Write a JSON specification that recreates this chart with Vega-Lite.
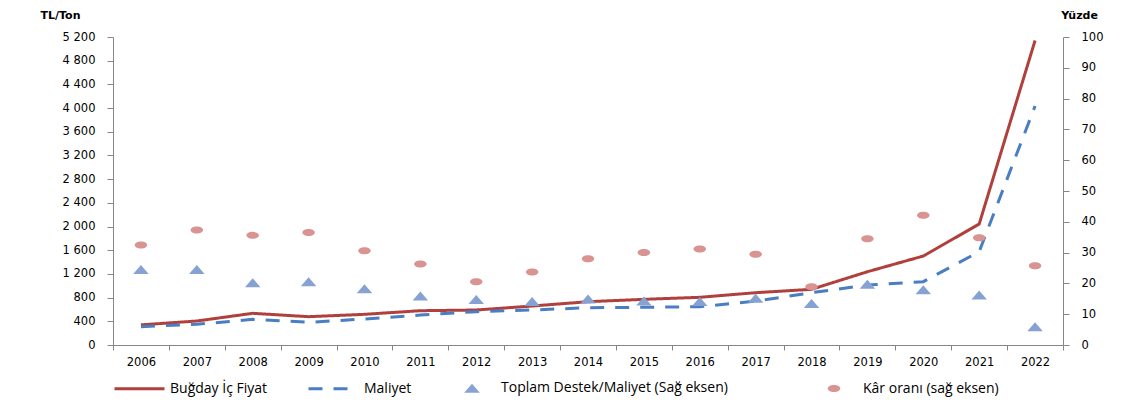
{
  "$schema": "https://vega.github.io/schema/vega-lite/v6.json",
  "width": 950,
  "height": 308,
  "autosize": "none",
  "padding": {"left": 113, "top": 37, "right": 67, "bottom": 74},
  "background": "white",
  "config": {
    "view": {"stroke": null},
    "axis": {
      "grid": false,
      "domainColor": "#868686",
      "tickColor": "#868686",
      "labelFont": "DejaVu Sans",
      "labelFontSize": 11.5,
      "labelColor": "#000000",
      "titleFont": "DejaVu Sans",
      "titleFontSize": 11,
      "titleFontWeight": "bold",
      "titleColor": "#000000"
    },
    "legend": {
      "title": null,
      "orient": "none",
      "direction": "horizontal",
      "labelFont": "Open Sans",
      "labelFontSize": 14,
      "labelColor": "#000000",
      "labelLimit": 400,
      "symbolSize": 2500,
      "padding": 0
    }
  },
  "data": {
    "values": [
      {"yil": "2006", "seri": "Buğday İç Fiyat", "deger": 340},
      {"yil": "2007", "seri": "Buğday İç Fiyat", "deger": 405},
      {"yil": "2008", "seri": "Buğday İç Fiyat", "deger": 535},
      {"yil": "2009", "seri": "Buğday İç Fiyat", "deger": 478},
      {"yil": "2010", "seri": "Buğday İç Fiyat", "deger": 518},
      {"yil": "2011", "seri": "Buğday İç Fiyat", "deger": 579},
      {"yil": "2012", "seri": "Buğday İç Fiyat", "deger": 591},
      {"yil": "2013", "seri": "Buğday İç Fiyat", "deger": 658},
      {"yil": "2014", "seri": "Buğday İç Fiyat", "deger": 731},
      {"yil": "2015", "seri": "Buğday İç Fiyat", "deger": 771},
      {"yil": "2016", "seri": "Buğday İç Fiyat", "deger": 805},
      {"yil": "2017", "seri": "Buğday İç Fiyat", "deger": 883},
      {"yil": "2018", "seri": "Buğday İç Fiyat", "deger": 940},
      {"yil": "2019", "seri": "Buğday İç Fiyat", "deger": 1237},
      {"yil": "2020", "seri": "Buğday İç Fiyat", "deger": 1502},
      {"yil": "2021", "seri": "Buğday İç Fiyat", "deger": 2042},
      {"yil": "2022", "seri": "Buğday İç Fiyat", "deger": 5140},
      {"yil": "2006", "seri": "Maliyet", "deger": 310},
      {"yil": "2007", "seri": "Maliyet", "deger": 349},
      {"yil": "2008", "seri": "Maliyet", "deger": 433},
      {"yil": "2009", "seri": "Maliyet", "deger": 383},
      {"yil": "2010", "seri": "Maliyet", "deger": 439},
      {"yil": "2011", "seri": "Maliyet", "deger": 506},
      {"yil": "2012", "seri": "Maliyet", "deger": 563},
      {"yil": "2013", "seri": "Maliyet", "deger": 591},
      {"yil": "2014", "seri": "Maliyet", "deger": 630},
      {"yil": "2015", "seri": "Maliyet", "deger": 636},
      {"yil": "2016", "seri": "Maliyet", "deger": 647},
      {"yil": "2017", "seri": "Maliyet", "deger": 740},
      {"yil": "2018", "seri": "Maliyet", "deger": 883},
      {"yil": "2019", "seri": "Maliyet", "deger": 1013},
      {"yil": "2020", "seri": "Maliyet", "deger": 1069},
      {"yil": "2021", "seri": "Maliyet", "deger": 1575},
      {"yil": "2022", "seri": "Maliyet", "deger": 4034},
      {"yil": "2006", "seri": "Toplam Destek/Maliyet (Sağ eksen)", "deger": 24.5},
      {"yil": "2007", "seri": "Toplam Destek/Maliyet (Sağ eksen)", "deger": 24.5},
      {"yil": "2008", "seri": "Toplam Destek/Maliyet (Sağ eksen)", "deger": 20.2},
      {"yil": "2009", "seri": "Toplam Destek/Maliyet (Sağ eksen)", "deger": 20.5},
      {"yil": "2010", "seri": "Toplam Destek/Maliyet (Sağ eksen)", "deger": 18.3},
      {"yil": "2011", "seri": "Toplam Destek/Maliyet (Sağ eksen)", "deger": 15.9},
      {"yil": "2012", "seri": "Toplam Destek/Maliyet (Sağ eksen)", "deger": 14.8},
      {"yil": "2013", "seri": "Toplam Destek/Maliyet (Sağ eksen)", "deger": 14.1},
      {"yil": "2014", "seri": "Toplam Destek/Maliyet (Sağ eksen)", "deger": 14.9},
      {"yil": "2015", "seri": "Toplam Destek/Maliyet (Sağ eksen)", "deger": 14.3},
      {"yil": "2016", "seri": "Toplam Destek/Maliyet (Sağ eksen)", "deger": 14.1},
      {"yil": "2017", "seri": "Toplam Destek/Maliyet (Sağ eksen)", "deger": 15.2},
      {"yil": "2018", "seri": "Toplam Destek/Maliyet (Sağ eksen)", "deger": 13.5},
      {"yil": "2019", "seri": "Toplam Destek/Maliyet (Sağ eksen)", "deger": 19.7},
      {"yil": "2020", "seri": "Toplam Destek/Maliyet (Sağ eksen)", "deger": 17.9},
      {"yil": "2021", "seri": "Toplam Destek/Maliyet (Sağ eksen)", "deger": 16.2},
      {"yil": "2022", "seri": "Toplam Destek/Maliyet (Sağ eksen)", "deger": 5.9},
      {"yil": "2006", "seri": "Kâr oranı (sağ eksen)", "deger": 32.5},
      {"yil": "2007", "seri": "Kâr oranı (sağ eksen)", "deger": 37.3},
      {"yil": "2008", "seri": "Kâr oranı (sağ eksen)", "deger": 35.6},
      {"yil": "2009", "seri": "Kâr oranı (sağ eksen)", "deger": 36.5},
      {"yil": "2010", "seri": "Kâr oranı (sağ eksen)", "deger": 30.6},
      {"yil": "2011", "seri": "Kâr oranı (sağ eksen)", "deger": 26.3},
      {"yil": "2012", "seri": "Kâr oranı (sağ eksen)", "deger": 20.5},
      {"yil": "2013", "seri": "Kâr oranı (sağ eksen)", "deger": 23.7},
      {"yil": "2014", "seri": "Kâr oranı (sağ eksen)", "deger": 28.0},
      {"yil": "2015", "seri": "Kâr oranı (sağ eksen)", "deger": 30.0},
      {"yil": "2016", "seri": "Kâr oranı (sağ eksen)", "deger": 31.2},
      {"yil": "2017", "seri": "Kâr oranı (sağ eksen)", "deger": 29.5},
      {"yil": "2018", "seri": "Kâr oranı (sağ eksen)", "deger": 18.9},
      {"yil": "2019", "seri": "Kâr oranı (sağ eksen)", "deger": 34.5},
      {"yil": "2020", "seri": "Kâr oranı (sağ eksen)", "deger": 42.1},
      {"yil": "2021", "seri": "Kâr oranı (sağ eksen)", "deger": 34.8},
      {"yil": "2022", "seri": "Kâr oranı (sağ eksen)", "deger": 25.7}
    ]
  },
  "layer": [
    {
      "transform": [{"filter": {"field": "seri", "oneOf": ["Buğday İç Fiyat", "Maliyet"]}}],
      "mark": {"type": "line", "strokeWidth": 3},
      "encoding": {
        "x": {
          "field": "yil", "type": "ordinal",
          "scale": {"type": "band", "paddingInner": 0, "paddingOuter": 0},
          "axis": {"title": null, "labelAngle": 0, "tickBand": "extent", "tickSize": 5, "labelPadding": 6}
        },
        "y": {
          "field": "deger", "type": "quantitative",
          "scale": {"domain": [0, 5200], "nice": false},
          "axis": {
            "values": [0, 400, 800, 1200, 1600, 2000, 2400, 2800, 3200, 3600, 4000, 4400, 4800, 5200],
            "labelExpr": "replace(format(datum.value, ','), ',', ' ')",
            "title": "TL/Ton", "titleAngle": 0, "titleX": -53, "titleY": -22,
            "titleAlign": "center", "titleBaseline": "middle",
            "tickSize": 6, "labelPadding": 12
          }
        },
        "color": {
          "field": "seri", "type": "nominal",
          "scale": {"domain": ["Buğday İç Fiyat", "Maliyet"], "range": ["#B0403C", "#4A7EC2"]},
          "legend": {"legendX": 0, "legendY": 325, "columnPadding": 34, "symbolStrokeWidth": 3, "labelOffset": 4}
        },
        "strokeDash": {
          "field": "seri", "type": "nominal",
          "scale": {"domain": ["Buğday İç Fiyat", "Maliyet"], "range": [[1, 0], [14, 11]]}
        }
      }
    },
    {
      "transform": [{"filter": {"field": "seri", "oneOf": ["Toplam Destek/Maliyet (Sağ eksen)", "Kâr oranı (sağ eksen)"]}}],
      "mark": {"type": "point", "filled": true, "opacity": 1, "size": 2500, "strokeWidth": 0},
      "encoding": {
        "x": {"field": "yil", "type": "ordinal"},
        "y": {
          "field": "deger", "type": "quantitative",
          "scale": {"domain": [0, 100], "nice": false},
          "axis": {
            "orient": "right",
            "values": [0, 10, 20, 30, 40, 50, 60, 70, 80, 90, 100],
            "title": "Yüzde", "titleAngle": 0, "titleX": 16, "titleY": -22,
            "titleAlign": "center", "titleBaseline": "middle",
            "tickSize": 6, "labelPadding": 12
          }
        },
        "fill": {
          "field": "seri", "type": "nominal",
          "scale": {"domain": ["Toplam Destek/Maliyet (Sağ eksen)", "Kâr oranı (sağ eksen)"], "range": ["#86A2D2", "#D99391"]},
          "legend": {"legendX": 333, "legendY": 325, "columnPadding": 80, "labelOffset": 3}
        },
        "shape": {
          "field": "seri", "type": "nominal",
          "scale": {
            "domain": ["Toplam Destek/Maliyet (Sağ eksen)", "Kâr oranı (sağ eksen)"],
            "range": ["M-0.31,0.18L0.31,0.18L0,-0.18Z", "M-0.25,0A0.25,0.14 0 1,0 0.25,0A0.25,0.14 0 1,0 -0.25,0Z"]
          }
        }
      }
    }
  ],
  "resolve": {"scale": {"y": "independent"}}
}
